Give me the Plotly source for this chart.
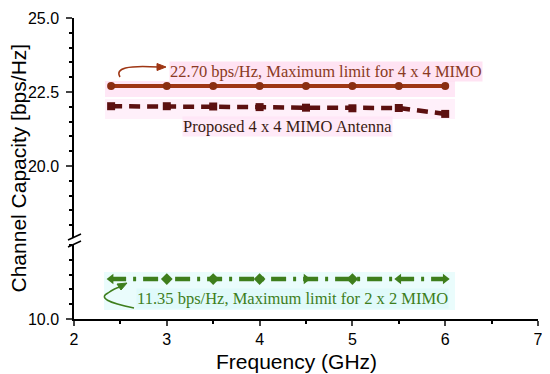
import plotly.graph_objects as go

freq = [2.4, 3.0, 3.5, 4.0, 4.5, 5.0, 5.5, 6.0]
limit_4x4 = [22.70] * 8
proposed_4x4 = [22.02, 22.02, 22.01, 21.99, 21.97, 21.95, 21.96, 21.76]
limit_2x2 = [11.35] * 8
green_symbols = ["triangle-left", "diamond", "diamond", "diamond", "triangle-right", "diamond", "triangle-left", "triangle-right"]

# page body has an 8px margin: lay out in screen pixels, then shift
OFF = 8
W, H = 550, 374
SL, SR, ST, SB = 74, 538, 18, 319  # plot area in screen pixels
L, T = SL - OFF, ST - OFF
R, B = W - (SR - OFF), H - (SB - OFF)
pw, ph = SR - SL, SB - ST
UPX = 29.6  # pixels per unit on both y segments

def px(x):
    return (x - SL) / pw

def py(y):
    return (SB - y) / ph

top_dom = [py(238), 1.0]
bot_dom = [0.0, py(245)]
top_lo = 25 - (238 - ST) / UPX
bot_hi = 10 + (SB - 245) / UPX

c_red = "#9E3614"
c_redm = "#8A2E12"
c_prop = "#5C1010"
c_green = "#3E7E1C"

fig = go.Figure()

fig.add_trace(go.Scatter(x=freq, y=limit_4x4, mode="lines+markers", yaxis="y",
                         line=dict(color=c_red, width=4),
                         marker=dict(symbol="circle", size=8, color=c_redm),
                         showlegend=False))
fig.add_trace(go.Scatter(x=freq, y=proposed_4x4, mode="lines+markers", yaxis="y",
                         line=dict(color=c_prop, width=4.5, dash="11px,7px"),
                         marker=dict(symbol="square", size=8, color=c_prop),
                         showlegend=False))
fig.add_trace(go.Scatter(x=freq, y=limit_2x2, mode="lines+markers", yaxis="y2",
                         line=dict(color=c_green, width=4.5, dash="15px,7px,3px,7px"),
                         marker=dict(symbol=green_symbols, size=9, color=c_green),
                         showlegend=False))

shapes = []
shapes.append(dict(type="rect", xref="paper", yref="paper", layer="below",
                   x0=px(105), x1=px(455), y0=py(97), y1=py(81),
                   fillcolor="rgba(255,215,240,0.6)", line=dict(width=0)))
shapes.append(dict(type="rect", xref="paper", yref="paper", layer="below",
                   x0=px(105), x1=px(455), y0=py(119), y1=py(99),
                   fillcolor="rgba(255,225,245,0.5)", line=dict(width=0)))
shapes.append(dict(type="rect", xref="paper", yref="paper", layer="below",
                   x0=px(104), x1=px(455), y0=py(310), y1=py(272),
                   fillcolor="rgba(220,250,250,0.6)", line=dict(width=0)))
for yb in (237, 244):
    shapes.append(dict(type="line", xref="paper", yref="paper",
                       x0=px(68), x1=px(81), y0=py(yb + 3), y1=py(yb - 3),
                       line=dict(color="black", width=1.5)))
shapes.append(dict(type="path", xref="paper", yref="paper",
                   path=f"M {px(120)},{py(77)} Q {px(112)},{py(64)} {px(158)},{py(67)}",
                   line=dict(color=c_red, width=1.5)))
shapes.append(dict(type="path", xref="paper", yref="paper",
                   path=f"M {px(166)},{py(67)} L {px(157)},{py(63.5)} L {px(157)},{py(70.5)} Z",
                   fillcolor=c_red, line=dict(color=c_red, width=1)))
shapes.append(dict(type="path", xref="paper", yref="paper",
                   path=f"M {px(134)},{py(308)} Q {px(94)},{py(300)} {px(108)},{py(293)} Q {px(115)},{py(288)} {px(120)},{py(287)}",
                   line=dict(color=c_green, width=1.5)))
shapes.append(dict(type="path", xref="paper", yref="paper",
                   path=f"M {px(127)},{py(283)} L {px(117)},{py(284)} L {px(121)},{py(290)} Z",
                   fillcolor=c_green, line=dict(color=c_green, width=1)))

annotations = [
    dict(x=px(169), y=py(71), xref="paper", yref="paper", xanchor="left", yanchor="middle",
         text="22.70 bps/Hz, Maximum limit for 4 x 4 MIMO", showarrow=False,
         font=dict(family="Liberation Serif", size=16.5, color="#8A3A22"),
         bgcolor="rgba(255,220,240,0.8)", borderpad=0),
    dict(x=px(182), y=py(126), xref="paper", yref="paper", xanchor="left", yanchor="middle",
         text="Proposed 4 x 4 MIMO Antenna", showarrow=False,
         font=dict(family="Liberation Serif", size=16.5, color="#3A1A12"),
         bgcolor="rgba(255,225,245,0.7)", borderpad=0),
    dict(x=px(136), y=py(298), xref="paper", yref="paper", xanchor="left", yanchor="middle",
         text="11.35 bps/Hz, Maximum limit for 2 x 2 MIMO", showarrow=False,
         font=dict(family="Liberation Serif", size=16.5, color=c_green),
         bgcolor="rgba(220,250,250,0.7)", borderpad=0),
    dict(x=px(18), y=py(168.5), xref="paper", yref="paper", xanchor="center", yanchor="middle",
         text="Channel Capacity [bps/Hz]", textangle=-90, showarrow=False,
         font=dict(family="Liberation Sans", size=21, color="black")),
    dict(x=px(296), y=py(361), xref="paper", yref="paper", xanchor="center", yanchor="middle",
         text="Frequency (GHz)", showarrow=False,
         font=dict(family="Liberation Sans", size=21, color="black")),
]

tickfont = dict(family="Liberation Sans", size=16, color="black")
minor = dict(dtick=0.5, ticks="outside", ticklen=3, tickwidth=1.5, tickcolor="black", showgrid=False)

fig.update_layout(
    width=W, height=H,
    margin=dict(l=L, r=R, t=T, b=B, autoexpand=False),
    paper_bgcolor="white", plot_bgcolor="white",
    font=dict(family="Liberation Sans", color="black"),
    xaxis=dict(range=[2, 7], tick0=2, dtick=1, ticks="outside", ticklen=5,
               tickwidth=1.5, showline=True, linecolor="black", linewidth=1.5,
               showgrid=False, zeroline=False, tickfont=tickfont, automargin=False,
               ticklabelstandoff=0, minor=minor, anchor="y2"),
    yaxis=dict(domain=top_dom, range=[top_lo, 25], tick0=20, dtick=2.5, tickformat=".1f",
               ticks="outside", ticklen=6, tickwidth=1.5, showline=True, linecolor="black",
               linewidth=1.5, showgrid=False, zeroline=False, tickfont=tickfont, anchor="x",
               ticklabelstandoff=4, automargin=False, minor=dict(minor, tick0=20)),
    yaxis2=dict(domain=bot_dom, range=[10, bot_hi], tick0=10, dtick=5, tickformat=".1f",
                ticks="outside", ticklen=6, tickwidth=1.5, showline=True, linecolor="black",
                linewidth=1.5, showgrid=False, zeroline=False, tickfont=tickfont, anchor="x",
                ticklabelstandoff=4, automargin=False, minor=dict(minor, tick0=10)),
    shapes=shapes,
    annotations=annotations,
)

fig.write_html("out.html")
